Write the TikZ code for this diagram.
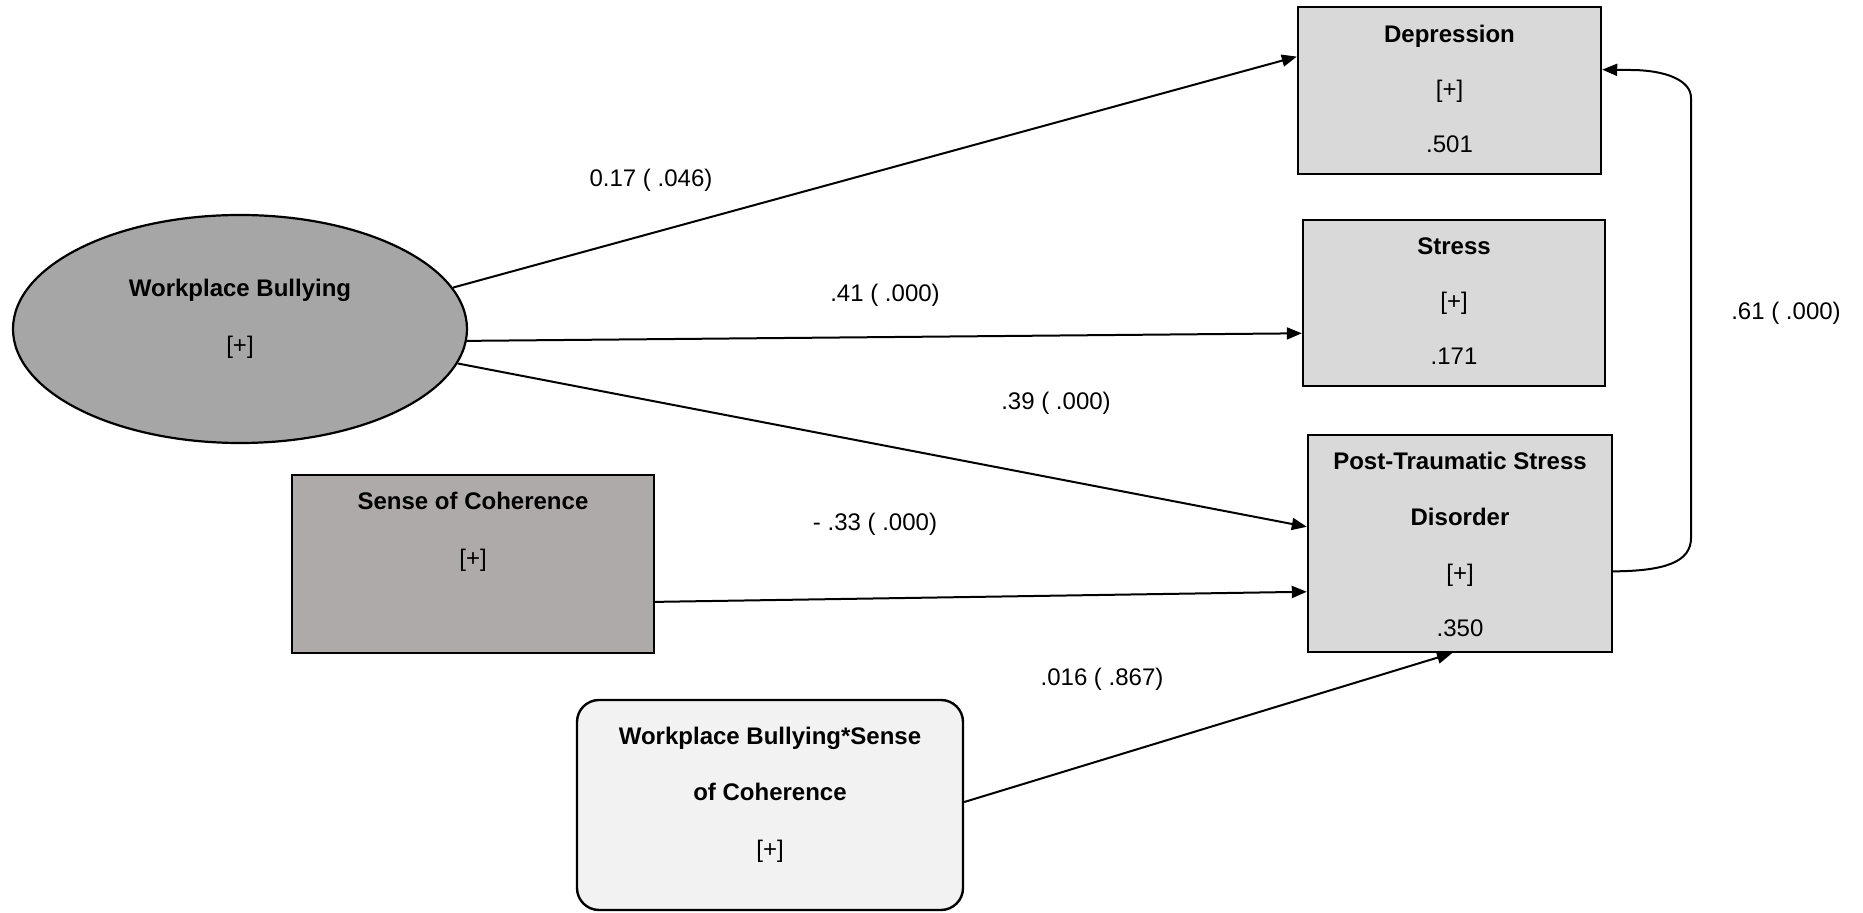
\documentclass[tikz,border=0pt]{standalone}
\usepackage{fontspec}
\setmainfont{Liberation Sans}
\usetikzlibrary{arrows.meta,calc,shapes.geometric}
\definecolor{boxgray}{HTML}{D9D9D9}
\definecolor{ellgray}{HTML}{A6A6A6}
\definecolor{socgray}{HTML}{AEAAAA}
\definecolor{intgray}{HTML}{F2F2F2}
\begin{document}
\begin{tikzpicture}[x=0.5pt,y=-0.5pt,
  every node/.style={font=\fontsize{12}{14}\selectfont},
  shapebox/.style={draw=black,line width=1.2pt,rectangle,inner sep=0pt},
  txt/.style={anchor=base,inner sep=0pt},
  ttl/.style={txt,font=\fontsize{12}{14}\selectfont\bfseries},
  lbl/.style={inner sep=0pt},
  arr/.style={line width=1pt,-{Triangle[length=7.5pt,width=6pt]}}]
\useasboundingbox (0,0) rectangle (1863,913);
% shapes
\node[shapebox,fill=boxgray,minimum width=151.5pt,minimum height=83.5pt] (dep) at (1449.5,90.5) {};
\node[shapebox,fill=boxgray,minimum width=151pt,minimum height=83pt] (str) at (1454,303) {};
\node[shapebox,fill=boxgray,minimum width=152pt,minimum height=108.5pt] (ptsd) at (1460,543.5) {};
\node[shapebox,fill=socgray,minimum width=181pt,minimum height=89pt] (soc) at (473,564) {};
\node[shapebox,fill=intgray,rounded corners=11pt,minimum width=193pt,minimum height=105pt] (int) at (770,805) {};
\node[draw=black,line width=1.1pt,ellipse,fill=ellgray,inner sep=0pt,minimum width=227pt,minimum height=114pt] (wb) at (240,329) {};
% texts
\node[ttl] (dep1) at (1449.5,43) {Depression};
\node[txt] (dep2) at (1449.5,98) {[+]};
\node[txt] (dep3) at (1449.5,153) {.501};
\node[ttl] (str1) at (1454,255) {Stress};
\node[txt] (str2) at (1454,310) {[+]};
\node[txt] (str3) at (1454,365) {.171};
\node[ttl] (pt1) at (1460,470) {Post-Traumatic Stress};
\node[ttl] (pt2) at (1460,526) {Disorder};
\node[txt] (pt3) at (1460,582) {[+]};
\node[txt] (pt4) at (1460,637) {.350};
\node[ttl] (wb1) at (240,297) {Workplace Bullying};
\node[txt] (wb2) at (240,354) {[+]};
\node[ttl] (soc1) at (473,510) {Sense of Coherence};
\node[txt] (soc2) at (473,567) {[+]};
\node[ttl] (int1) at (770,745) {Workplace Bullying*Sense};
\node[ttl] (int2) at (770,800) {of Coherence};
\node[txt] (int3) at (770,857) {[+]};
% labels
\node[lbl] (l1) at (651,180) {0.17 ( .046)};
\node[lbl] (l2) at (885,295) {.41 ( .000)};
\node[lbl] (l3) at (1056,403) {.39 ( .000)};
\node[lbl] (l4) at (875,524) {- .33 ( .000)};
\node[lbl] (l5) at (1102,679) {.016 ( .867)};
\node[lbl] (l6) at (1786,313) {.61 ( .000)};
% connectors
\draw[arr] (wb.11.2) -- ($(dep.north west)!0.30!(dep.south west)$);
\draw[arr] (wb.-3.6) -- ($(str.north west)!0.68!(str.south west)$);
\draw[arr] (wb.-9.4) -- ($(ptsd.north west)!0.424!(ptsd.south west)$);
\draw[arr] ($(soc.north east)!0.71!(soc.south east)$) -- ($(ptsd.north west)!0.72!(ptsd.south west)$);
\draw[arr] ($(int.north east)!0.486!(int.south east)$) -- ($(ptsd.south west)!0.474!(ptsd.south east)$);
\draw[arr] ($(ptsd.north east)!0.627!(ptsd.south east)$) .. controls (1665,571) and (1691,562) .. (1691,538)
  -- (1691,98) .. controls (1691,80) and (1665,70) .. (1630,70) -- ($(dep.north east)!0.377!(dep.south east)$);
\end{tikzpicture}
\end{document}
